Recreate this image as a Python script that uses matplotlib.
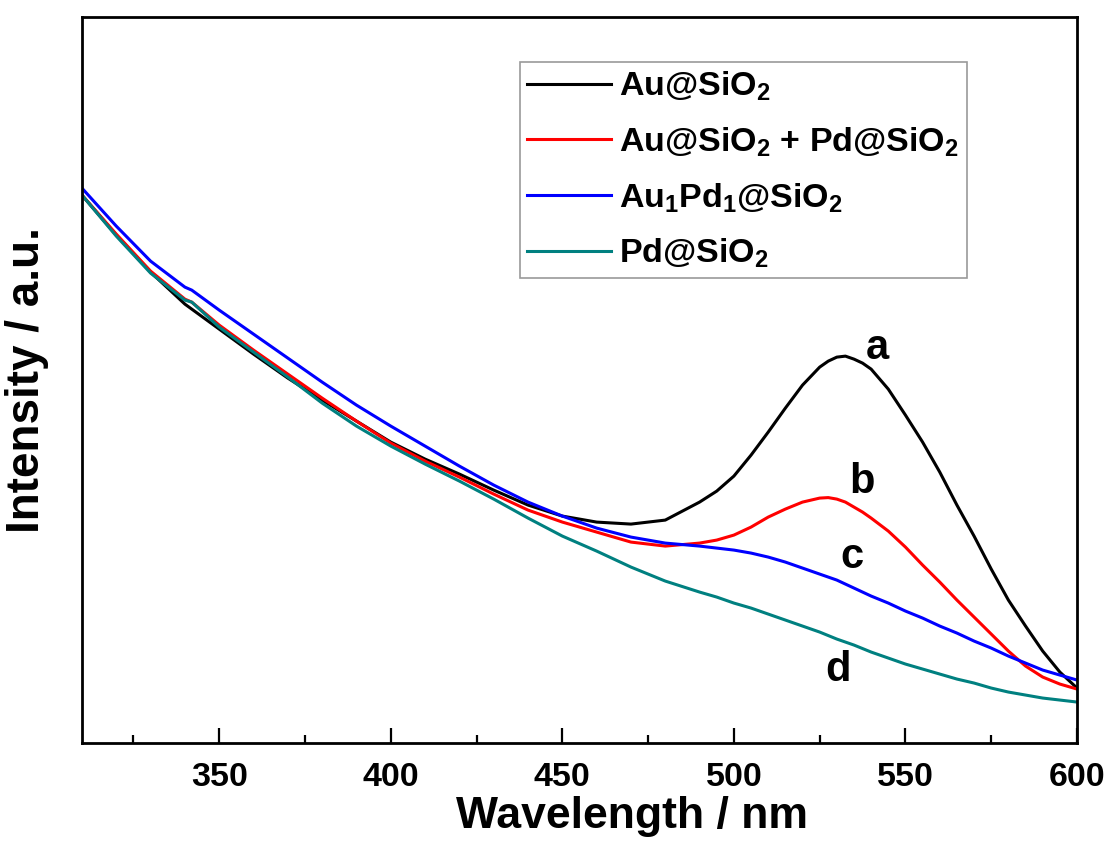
import matplotlib
matplotlib.use('Agg')
import matplotlib.pyplot as plt
from matplotlib.ticker import MultipleLocator, NullLocator

plt.rcParams['font.family'] = ['Liberation Sans', 'DejaVu Sans']
plt.rcParams['font.weight'] = 'bold'
plt.rcParams['mathtext.fontset'] = 'custom'
plt.rcParams['mathtext.rm'] = 'Liberation Sans:bold'
plt.rcParams['mathtext.it'] = 'Liberation Sans:bold'
plt.rcParams['mathtext.bf'] = 'Liberation Sans:bold'

# wavelength grid (nm)
wavelength = [310, 320, 330, 340, 342, 350, 360, 370, 380, 390, 400, 410, 420, 430,
              440, 450, 460, 470, 480, 490, 495, 500, 505, 510, 515, 520, 525, 527.5,
              530, 532.5, 535, 537.5, 540, 545, 550, 555, 560, 565, 570, 575, 580,
              585, 590, 595, 600]

# a: Au@SiO2
au_sio2 = [5.48, 5.08, 4.71, 4.39, 4.34, 4.14, 3.89, 3.65, 3.43, 3.22, 3.01, 2.84, 2.69, 2.53,
           2.38, 2.27, 2.21, 2.19, 2.23, 2.41, 2.52, 2.67, 2.88, 3.11, 3.35, 3.58, 3.76, 3.82,
           3.86, 3.87, 3.84, 3.80, 3.74, 3.54, 3.28, 3.01, 2.71, 2.38, 2.07, 1.74, 1.43,
           1.17, 0.92, 0.71, 0.55]
# b: Au@SiO2 + Pd@SiO2
mix = [5.48, 5.09, 4.72, 4.44, 4.41, 4.18, 3.93, 3.69, 3.45, 3.22, 3.00, 2.82, 2.66, 2.49,
       2.33, 2.21, 2.11, 2.01, 1.97, 2.00, 2.03, 2.08, 2.16, 2.26, 2.34, 2.41, 2.45, 2.455,
       2.44, 2.41, 2.36, 2.31, 2.25, 2.12, 1.96, 1.78, 1.61, 1.43, 1.26, 1.09, 0.92,
       0.77, 0.66, 0.59, 0.54]
# c: Au1Pd1@SiO2
aupd_sio2 = [5.55, 5.17, 4.82, 4.56, 4.53, 4.33, 4.09, 3.85, 3.61, 3.38, 3.17, 2.97, 2.77, 2.58,
             2.41, 2.27, 2.15, 2.06, 2.00, 1.97, 1.95, 1.93, 1.90, 1.86, 1.81, 1.75, 1.69, 1.66,
             1.63, 1.59, 1.55, 1.51, 1.47, 1.40, 1.32, 1.25, 1.17, 1.10, 1.02, 0.95, 0.87,
             0.80, 0.73, 0.68, 0.63]
# d: Pd@SiO2
pd_sio2 = [5.48, 5.07, 4.70, 4.43, 4.41, 4.16, 3.91, 3.66, 3.40, 3.17, 2.97, 2.79, 2.62, 2.44,
           2.25, 2.07, 1.92, 1.76, 1.62, 1.51, 1.46, 1.40, 1.35, 1.29, 1.23, 1.17, 1.11, 1.075,
           1.04, 1.01, 0.98, 0.945, 0.91, 0.85, 0.79, 0.74, 0.69, 0.64, 0.60, 0.55, 0.51,
           0.48, 0.45, 0.43, 0.41]

labels = [r'Au@SiO$_2$', r'Au@SiO$_2$ + Pd@SiO$_2$', r'Au$_1$Pd$_1$@SiO$_2$', r'Pd@SiO$_2$']
colors = ['black', '#ff0000', '#0000ff', '#008080']
tags = ['a', 'b', 'c', 'd']
tag_x = [541.8, 537.4, 534.5, 530.4]
tag_y = [3.95, 2.61, 1.86, 0.73]

fig = plt.figure(figsize=(11.11, 8.6), dpi=100)
ax = fig.add_axes([0.0738, 0.136, 0.8956, 0.844])

for ys, lab, c in zip([au_sio2, mix, aupd_sio2, pd_sio2], labels, colors):
    ax.plot(wavelength, ys, color=c, lw=2.2, label=lab)

for t, tx, ty in zip(tags, tag_x, tag_y):
    ax.text(tx, ty, t, fontsize=30, fontweight='bold', ha='center', va='center')

ax.set_xlim(310, 600)
ax.set_ylim(0, 7.26)
ax.xaxis.set_major_locator(MultipleLocator(50))
ax.xaxis.set_minor_locator(MultipleLocator(25))
ax.yaxis.set_major_locator(NullLocator())
ax.tick_params(axis='x', which='major', direction='in', length=11, width=1.6,
               labelsize=24.5, pad=14)
ax.tick_params(axis='x', which='minor', direction='in', length=6, width=1.6)
for s in ax.spines.values():
    s.set_linewidth(2)

ax.set_xlabel('Wavelength / nm', fontsize=32, fontweight='bold')
ax.xaxis.set_label_coords(0.553, -0.073, transform=ax.transAxes)
ax.xaxis.label.set_va('top')
ax.set_ylabel('Intensity / a.u.', fontsize=33, fontweight='bold', labelpad=24)

leg = ax.legend(loc='upper left', bbox_to_anchor=(520 / 1111, 1 - 62 / 860),
                bbox_transform=fig.transFigure, borderaxespad=0, fontsize=24.5,
                frameon=True, fancybox=False, handlelength=2.45, handletextpad=0.25,
                labelspacing=0.66, borderpad=0.22)
leg.get_frame().set_edgecolor('#808080')
leg.get_frame().set_linewidth(1.2)

fig.savefig('out.png', dpi=100)
